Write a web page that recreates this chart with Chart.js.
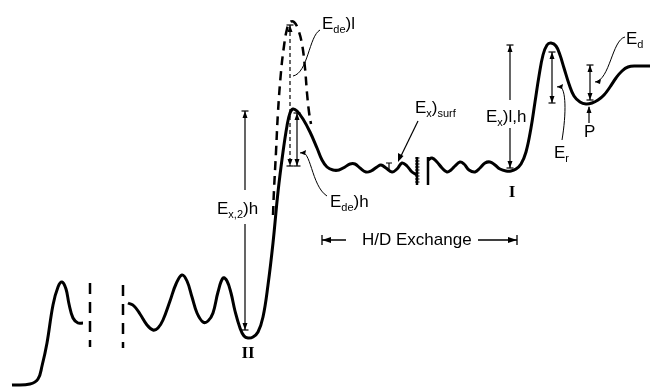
<!DOCTYPE html>
<html>
<head>
<meta charset="utf-8">
<script src="https://cdn.jsdelivr.net/npm/chart.js@4.4.1/dist/chart.umd.min.js"></script>
<style>
  html, body { margin: 0; padding: 0; background: #fff; }
  #wrap { width: 650px; height: 388px; }
</style>
</head>
<body>
<div id="wrap"><canvas id="energyChart" width="650" height="388"></canvas></div>
<script>
// potential energy curve (x, y in picture units, y grows downward)
const leftCurve = [[12,385],[30,384],[38,379],[42,366],[47,343],[53,305],[58,287],[62,282],[66,289],[69,304],[73,318],[78,323],[83,323]];
const mainCurve = [[128,303],[134,306],[140,314],[147,325],[153,330],[158,328],[163,320],[170,301],[176,284],[182,275],[187,281],[192,297],[197,313],[203,322],[208,321],[213,313],[218,292],[223,278],[227,281],[231,293],[235,311],[240,328],[244,336],[248,338],[253,337],[258,332],[263,317],[268,285],[273,243],[278,192],[283,152],[287,126],[290,113],[293,109],[297,111],[303,119],[310,132],[317,148],[322,160],[327,167],[333,170],[339,170],[345,167],[350,164],[355,164],[360,168],[366,172],[371,171],[377,167],[381,165],[386,168],[392,172],[397,169],[402,163],[407,166],[412,172],[417,175]];
const rightCurve = [[428,160],[432,158],[437,162],[442,168],[447,172],[451,170],[455,166],[460,162],[464,164],[469,170],[475,172],[480,168],[485,163],[490,162],[495,165],[500,169],[506,171],[511,171],[516,169],[521,164],[526,152],[531,128],[535,102],[539,76],[543,55],[547,45],[551,43],[556,46],[560,55],[564,68],[569,84],[574,96],[580,102],[586,104],[592,103],[598,100],[604,95],[610,87],[616,78],[622,71],[628,67],[636,66],[650,66]];
const dashedCurve = [[273,215],[274,190],[276,152],[278,112],[281,72],[284,46],[287,29],[290,22],[294,22],[298,29],[302,44],[305,68],[307,93],[309,112],[311,124]];
const breakLines = [[90,283,347],[123,285,348]];
const walls = [[417,157,185],[428,157,185]];

// double arrows: x, top, bottom, dashed, gap for label
const doubleArrows = [
  [245,111,330,false,[190,224]],
  [290,25,166,true,null],
  [297,113,166,false,null],
  [510,45,168,false,[100,128]],
  [552,52,103,false,null],
  [590,65,100,false,null]
];

// label text: parts [text, sub?], x, baseline
const labels = [
  [[['E',0],['de',1],[')l',0]], 322, 29],
  [[['E',0],['de',1],[')h',0]], 330, 207],
  [[['E',0],['x,2',1],[')h',0]], 217, 214],
  [[['E',0],['x',1],[')l,h',0]], 486, 122],
  [[['E',0],['x',1],[')',0],['surf',1]], 415, 113],
  [[['E',0],['r',1]], 554, 158],
  [[['E',0],['d',1]], 626, 44],
  [[['P',0]], 584, 137],
  [[['H/D Exchange',0]], 362, 245]
];
const romanLabels = [['II',248,358],['I',512,197]];

const toPts = arr => arr.map(p => ({x: p[0], y: p[1]}));

function lineSet(arr, width, dash) {
  return {
    data: toPts(arr),
    showLine: true,
    borderColor: '#000',
    borderWidth: width,
    borderDash: dash || [],
    pointRadius: 0,
    tension: 0.4,
    fill: false
  };
}

const datasets = [
  lineSet(leftCurve, 3),
  lineSet(mainCurve, 3),
  lineSet(rightCurve, 3),
  lineSet(dashedCurve, 2.5, [9,6])
];
breakLines.forEach(b => {
  const d = lineSet([[b[0],b[1]],[b[0],b[2]]], 2.5, [11,8]);
  d.tension = 0;
  datasets.push(d);
});
walls.forEach(w => {
  const d = lineSet([[w[0],w[1]],[w[0],w[2]]], 2.5);
  d.tension = 0;
  datasets.push(d);
});

function head(ctx, x, y, dir) {
  // dir = -1 points up, +1 points down
  ctx.beginPath();
  ctx.moveTo(x, y);
  ctx.lineTo(x - 2.5, y - dir * 7);
  ctx.lineTo(x + 2.5, y - dir * 7);
  ctx.closePath();
  ctx.fill();
  ctx.beginPath();
  ctx.moveTo(x - 3.5, y);
  ctx.lineTo(x + 3.5, y);
  ctx.stroke();
}

function sideHead(ctx, x, y, dir) {
  // horizontal arrow head, dir = -1 left, +1 right
  ctx.beginPath();
  ctx.moveTo(x, y);
  ctx.lineTo(x - dir * 9, y - 3);
  ctx.lineTo(x - dir * 9, y + 3);
  ctx.closePath();
  ctx.fill();
  ctx.beginPath();
  ctx.moveTo(x, y - 5);
  ctx.lineTo(x, y + 5);
  ctx.stroke();
}

function drawParts(ctx, parts, x, y) {
  let cx = x;
  parts.forEach(p => {
    ctx.font = p[1] ? '11px "Liberation Sans", Arial, sans-serif' : '17px "Liberation Sans", Arial, sans-serif';
    ctx.fillText(p[0], cx, p[1] ? y + 4 : y);
    cx += ctx.measureText(p[0]).width;
  });
}

const notes = {
  id: 'notes',
  afterDatasetsDraw(chart) {
    const ctx = chart.ctx;
    const X = v => chart.scales.x.getPixelForValue(v);
    const Y = v => chart.scales.y.getPixelForValue(v);
    ctx.save();
    ctx.strokeStyle = '#000';
    ctx.fillStyle = '#000';
    ctx.lineWidth = 1.2;

    doubleArrows.forEach(a => {
      const x = X(a[0]), t = Y(a[1]), b = Y(a[2]);
      ctx.setLineDash(a[3] ? [4,3] : []);
      ctx.beginPath();
      if (a[4]) {
        ctx.moveTo(x, t); ctx.lineTo(x, Y(a[4][0]));
        ctx.moveTo(x, Y(a[4][1])); ctx.lineTo(x, b);
      } else {
        ctx.moveTo(x, t); ctx.lineTo(x, b);
      }
      ctx.stroke();
      ctx.setLineDash([]);
      head(ctx, x, t, -1);
      head(ctx, x, b, 1);
    });

    // P arrow
    ctx.beginPath();
    ctx.moveTo(X(589), Y(123)); ctx.lineTo(X(589), Y(107));
    ctx.stroke();
    ctx.beginPath();
    ctx.moveTo(X(589), Y(106)); ctx.lineTo(X(586.5), Y(113)); ctx.lineTo(X(591.5), Y(113));
    ctx.closePath(); ctx.fill();

    // E_x)surf arrow
    ctx.beginPath();
    ctx.moveTo(X(418), Y(121)); ctx.lineTo(X(400), Y(158));
    ctx.stroke();
    ctx.beginPath();
    ctx.moveTo(X(398), Y(162)); ctx.lineTo(X(398), Y(153)); ctx.lineTo(X(403.5), Y(156));
    ctx.closePath(); ctx.fill();

    // small I mark in the surface wiggles
    ctx.beginPath();
    ctx.moveTo(X(389), Y(163)); ctx.lineTo(X(389), Y(170));
    ctx.moveTo(X(386), Y(163)); ctx.lineTo(X(392), Y(163));
    ctx.stroke();

    // hatch on the first wall
    ctx.lineWidth = 1;
    for (let y = 158; y < 185; y += 3) {
      ctx.beginPath();
      ctx.moveTo(X(415), Y(y)); ctx.lineTo(X(419.5), Y(y));
      ctx.stroke();
    }

    // leader curves
    ctx.lineWidth = 1;
    ctx.beginPath();
    ctx.moveTo(X(320), Y(30));
    ctx.bezierCurveTo(X(309), Y(36), X(308), Y(73), X(293), Y(76));
    ctx.moveTo(X(300), Y(153));
    ctx.bezierCurveTo(X(311), Y(147), X(311), Y(186), X(327), Y(196));
    ctx.moveTo(X(557), Y(87));
    ctx.bezierCurveTo(X(566), Y(82), X(567), Y(110), X(562), Y(140));
    ctx.moveTo(X(595), Y(82));
    ctx.bezierCurveTo(X(610), Y(80), X(612), Y(40), X(625), Y(37));
    ctx.stroke();
    [[300,153],[557,87],[595,82]].forEach(p => {
      ctx.beginPath();
      ctx.moveTo(X(p[0]), Y(p[1]));
      ctx.lineTo(X(p[0] + 6), Y(p[1] - 3));
      ctx.lineTo(X(p[0] + 5), Y(p[1] + 2));
      ctx.closePath(); ctx.fill();
    });

    // H/D exchange span
    ctx.lineWidth = 1.3;
    ctx.beginPath();
    ctx.moveTo(X(322), Y(240)); ctx.lineTo(X(346), Y(240));
    ctx.moveTo(X(478), Y(240)); ctx.lineTo(X(517), Y(240));
    ctx.stroke();
    sideHead(ctx, X(322), Y(240), -1);
    sideHead(ctx, X(517), Y(240), 1);

    ctx.textBaseline = 'alphabetic';
    labels.forEach(l => drawParts(ctx, l[0], X(l[1]), Y(l[2])));

    ctx.font = 'bold 17px "Liberation Serif", "Times New Roman", serif';
    ctx.textAlign = 'center';
    romanLabels.forEach(r => ctx.fillText(r[0], X(r[1]), Y(r[2])));
    ctx.restore();
  }
};

new Chart(document.getElementById('energyChart').getContext('2d'), {
  type: 'scatter',
  data: { datasets: datasets },
  options: {
    responsive: false,
    animation: false,
    layout: { padding: 0 },
    plugins: { legend: { display: false }, tooltip: { enabled: false } },
    scales: {
      x: { type: 'linear', min: 0, max: 650, display: false },
      y: { type: 'linear', min: 0, max: 388, reverse: true, display: false }
    }
  },
  plugins: [notes]
});
</script>
</body>
</html>
